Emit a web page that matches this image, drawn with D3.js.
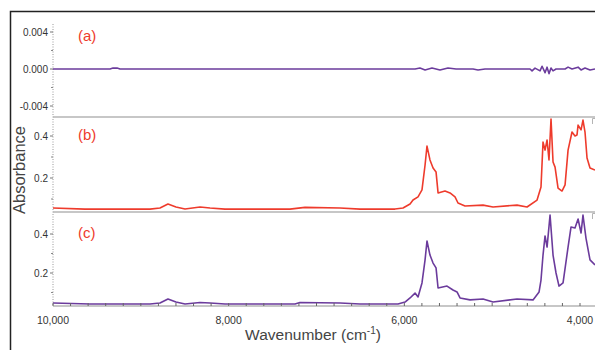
<!DOCTYPE html>
<html>
<head>
<meta charset="utf-8">
<script src="https://cdn.jsdelivr.net/npm/d3@7"></script>
<style>
  body { margin: 0; background: #fff; }
  svg { display: block; font-family: "Liberation Sans", Arial, sans-serif; }
</style>
</head>
<body>
<div id="chart"></div>
<script>
// ---- data (wavenumber in cm-1, absorbance) ----
const waveA = [10000, 9351, 9317, 9271, 9237, 5878, 5822, 5764, 5685, 5594, 5503, 5411, 5218, 5161, 5081,
  4569, 4546, 4512, 4455, 4432, 4398, 4375, 4353, 4330, 4307, 4273, 4170, 4136, 4091, 4022, 3988, 3943, 3886, 3829];
const absA = [0, 0, 0.0001, 0.0001, 0, 0, 0.0001, -0.0001, 0.0001, -0.0001, 0.0001, 0, 0, -0.0001, 0,
  0, -0.0002, 0.0001, -0.0002, 0.0003, -0.0004, 0.0002, -0.0005, 0.0001, -0.0002, 0, 0, 0.0002, 0, 0.0002, -0.0001, 0.0001, -0.0001, 0];

const waveB = [10000, 9636, 8896, 8782, 8691, 8600, 8497, 8326, 8212, 8042, 7302, 7131, 6732, 6504, 6106,
  6015, 5935, 5901, 5844, 5799, 5764, 5742, 5708, 5673, 5639, 5616, 5537, 5480, 5423, 5389, 5309, 5104,
  4990, 4717, 4603, 4489, 4444, 4421, 4398, 4375, 4353, 4330, 4307, 4284, 4250, 4205, 4170, 4136, 4091,
  4057, 4034, 4022, 3988, 3966, 3943, 3920, 3886, 3829];
const absB = [0.057, 0.052, 0.052, 0.057, 0.076, 0.062, 0.052, 0.062, 0.057, 0.052, 0.052, 0.06, 0.057, 0.052, 0.052,
  0.057, 0.076, 0.095, 0.11, 0.143, 0.262, 0.352, 0.286, 0.248, 0.229, 0.129, 0.138, 0.129, 0.11, 0.081, 0.067, 0.071,
  0.062, 0.071, 0.062, 0.095, 0.157, 0.371, 0.333, 0.381, 0.286, 0.481, 0.276, 0.252, 0.152, 0.138, 0.167, 0.333, 0.419,
  0.4, 0.405, 0.452, 0.429, 0.476, 0.419, 0.295, 0.248, 0.238];

const waveC = [10000, 9579, 8896, 8782, 8691, 8600, 8497, 8326, 8212, 8042, 7245, 7188, 6732, 6504, 6072,
  5992, 5935, 5878, 5844, 5799, 5764, 5742, 5708, 5673, 5639, 5616, 5514, 5446, 5400, 5366, 5252, 5104,
  4990, 4717, 4535, 4466, 4444, 4421, 4398, 4375, 4341, 4307, 4273, 4239, 4193, 4136, 4102, 4057, 4022,
  3988, 3966, 3932, 3886, 3829];
const absC = [0.046, 0.041, 0.041, 0.046, 0.067, 0.051, 0.041, 0.049, 0.046, 0.041, 0.041, 0.049, 0.046, 0.041, 0.041,
  0.051, 0.072, 0.097, 0.077, 0.149, 0.267, 0.364, 0.292, 0.251, 0.226, 0.123, 0.133, 0.113, 0.103, 0.072, 0.062, 0.067,
  0.051, 0.067, 0.062, 0.103, 0.164, 0.292, 0.39, 0.333, 0.497, 0.292, 0.2, 0.133, 0.149, 0.333, 0.436, 0.431, 0.477,
  0.405, 0.497, 0.379, 0.267, 0.241];

const xTicks = [10000, 8000, 6000, 4000];
const xTickLabels = ["10,000", "8,000", "6,000", "4,000"];
const yTicksA = [0.004, 0, -0.004];
const yTickLabelsA = ["0.004", "0.000", "-0.004"];
const yTicksBC = [0.4, 0.2];
const yTickLabelsBC = ["0.4", "0.2"];
const panelNames = ["(a)", "(b)", "(c)"];

const W = 595, H = 350;
const left = 53, right = 640;
const red = "#ee3b2c", purple = "#6b3b9c", grey = "#b4b4b4";

const svg = d3.select("#chart").append("svg").attr("width", W).attr("height", H);

const x = d3.scaleLinear().domain([10000, 4000]).range([53, 580]);

// panel layout: [top, bottom] of each strip and its y scale
const panels = [
  { top: 20, bottom: 117, y: d3.scaleLinear().domain([-0.004, 0.004]).range([106, 32]),
    wave: waveA, abs: absA, color: purple, ticks: yTicksA, labels: yTickLabelsA, minor: [0.002, -0.002] },
  { top: 117, bottom: 212, y: d3.scaleLinear().domain([0.2, 0.4]).range([178, 136]),
    wave: waveB, abs: absB, color: red, ticks: yTicksBC, labels: yTickLabelsBC, minor: [0.3, 0.1] },
  { top: 212, bottom: 306, y: d3.scaleLinear().domain([0.2, 0.4]).range([273, 234]),
    wave: waveC, abs: absC, color: purple, ticks: yTicksBC, labels: yTickLabelsBC, minor: [0.3, 0.1] }
];

// outer frame
svg.append("path")
  .attr("d", `M10.5,${H} V11.5 H${W}`)
  .attr("fill", "none").attr("stroke", "#222").attr("stroke-width", 1.5);

// dotted left axis
svg.append("line")
  .attr("x1", left).attr("x2", left).attr("y1", 24).attr("y2", 306)
  .attr("stroke", "#999").attr("stroke-width", 1).attr("stroke-dasharray", "1,1.5");

panels.forEach((p, i) => {
  // separators / bottom lines
  svg.append("line")
    .attr("x1", left).attr("x2", W).attr("y1", p.bottom).attr("y2", p.bottom)
    .attr("stroke", grey).attr("stroke-width", 1.6);

  svg.append("clipPath").attr("id", "clip" + i)
    .append("rect").attr("x", left).attr("y", p.top).attr("width", right - left).attr("height", p.bottom - p.top);

  const pts = p.wave.map((w, k) => [w, p.abs[k]]);
  const line = d3.line().x(d => x(d[0])).y(d => p.y(d[1]));
  svg.append("path")
    .datum(pts)
    .attr("clip-path", `url(#clip${i})`)
    .attr("d", line)
    .attr("fill", "none").attr("stroke", p.color).attr("stroke-width", 1.6)
    .attr("stroke-linejoin", "round");

  // y ticks
  const g = svg.append("g");
  g.selectAll("line.maj").data(p.ticks).join("line")
    .attr("x1", left - 3).attr("x2", left).attr("y1", d => p.y(d)).attr("y2", d => p.y(d))
    .attr("stroke", "#777");
  g.selectAll("line.min").data(p.minor).join("line")
    .attr("x1", left - 2).attr("x2", left).attr("y1", d => p.y(d)).attr("y2", d => p.y(d))
    .attr("stroke", "#888");
  g.selectAll("text").data(p.ticks).join("text")
    .attr("x", left - 5).attr("y", d => p.y(d) + 3.5)
    .attr("text-anchor", "end").attr("font-size", 10).attr("fill", "#333")
    .text((d, k) => p.labels[k]);

  // panel label
  svg.append("text")
    .attr("x", 78).attr("y", [41, 140, 238][i])
    .attr("font-size", 15).attr("fill", red)
    .text(panelNames[i]);
});

// small corner marks at the right edge
[117, 212].forEach(yy => {
  svg.append("path").attr("d", `M592.5,${yy + 7} V${yy + 1.5} H600`)
    .attr("fill", "none").attr("stroke", grey).attr("stroke-width", 1);
});

// x axis ticks
const minor = d3.range(10000, 3799, -200);
svg.selectAll("line.xmin").data(minor).join("line")
  .attr("x1", d => x(d)).attr("x2", d => x(d)).attr("y1", 306).attr("y2", 303)
  .attr("stroke", "#666");
svg.selectAll("text.xt").data(xTicks).join("text")
  .attr("class", "xt")
  .attr("x", d => x(d)).attr("y", 324)
  .attr("text-anchor", "middle").attr("font-size", 10.5).attr("fill", "#333")
  .text((d, k) => xTickLabels[k]);

// axis titles
svg.append("text")
  .attr("transform", "translate(25,170) rotate(-90)")
  .attr("text-anchor", "middle").attr("font-size", 16.5).attr("fill", "#444")
  .text("Absorbance");

const xt = svg.append("text")
  .attr("x", 313).attr("y", 340)
  .attr("text-anchor", "middle").attr("font-size", 15.5).attr("fill", "#444");
xt.append("tspan").text("Wavenumber (cm");
xt.append("tspan").attr("font-size", 10).attr("dy", -6).text("-1");
xt.append("tspan").attr("dy", 6).text(")");
</script>
</body>
</html>
